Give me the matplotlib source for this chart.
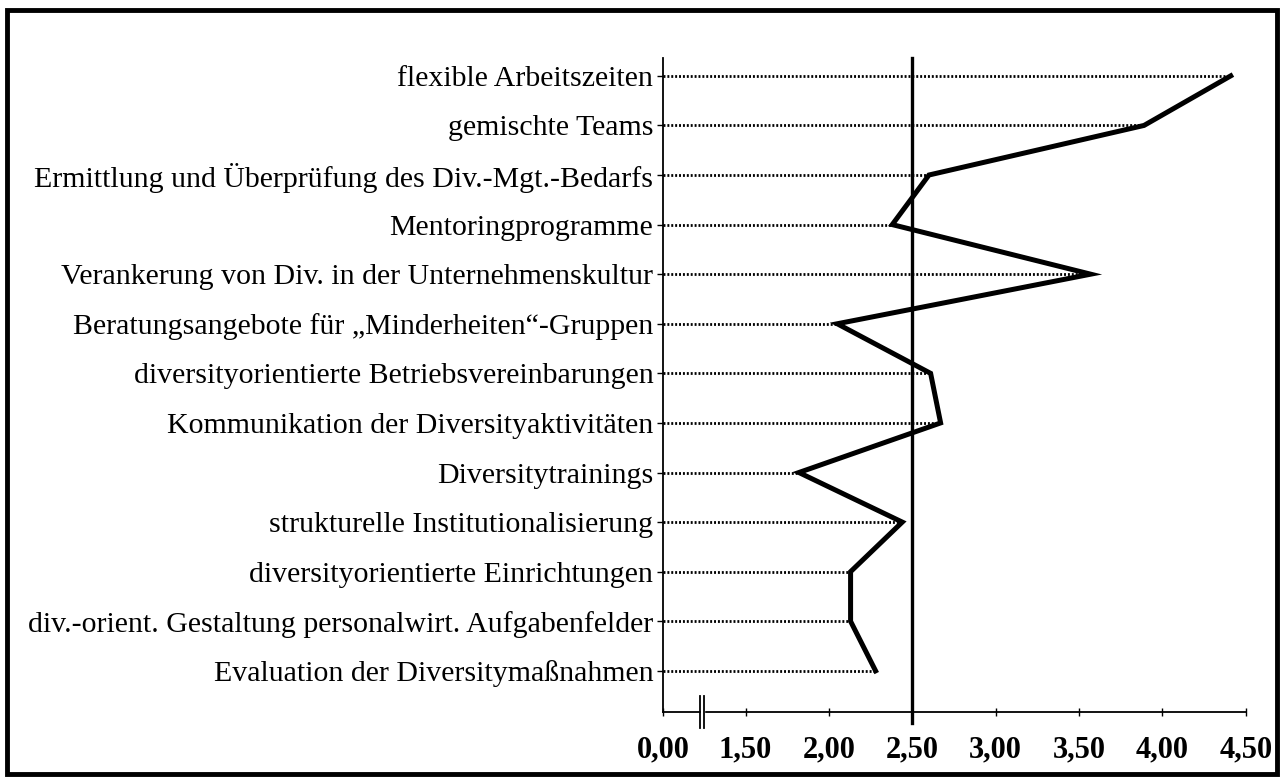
import matplotlib
matplotlib.use("Agg")
import matplotlib.pyplot as plt
from matplotlib.patches import Rectangle
import matplotlib.transforms as mtransforms

categories = [
    "Evaluation der Diversitymaßnahmen",
    "div.-orient. Gestaltung personalwirt. Aufgabenfelder",
    "diversityorientierte Einrichtungen",
    "strukturelle Institutionalisierung",
    "Diversitytrainings",
    "Kommunikation der Diversityaktivitäten",
    "diversityorientierte Betriebsvereinbarungen",
    "Beratungsangebote für „Minderheiten“-Gruppen",
    "Verankerung von Div. in der Unternehmenskultur",
    "Mentoringprogramme",
    "Ermittlung und Überprüfung des Div.-Mgt.-Bedarfs",
    "gemischte Teams",
    "flexible Arbeitszeiten",
]
values = [2.28, 2.13, 2.13, 2.44, 1.82, 2.67, 2.61, 2.05, 3.57, 2.38, 2.60, 3.89, 4.41]
reference_value = 2.50
tick_values = [1.5, 2.0, 2.5, 3.0, 3.5, 4.0, 4.5]
tick_labels = ["0,00", "1,50", "2,00", "2,50", "3,00", "3,50", "4,00", "4,50"]

X_START = 1.005  # position of "0,00" on the broken axis

plt.rcParams['font.family'] = ['Liberation Serif', 'DejaVu Serif']

fig = plt.figure(figsize=(12.83, 7.80), dpi=100)
ax = fig.add_axes([663/1283, (780-712)/780, 582.75/1283, 654/780])

ys = list(range(len(categories)))
ax.set_xlim(X_START, 4.5)
ax.set_ylim(-0.83, 12.36)

# dotted guide lines from axis to value
ax.hlines(ys, X_START, values, colors='black', linestyles=(0, (0.7, 0.7)), linewidth=2.0, zorder=1)
# main profile line
ax.plot(values, ys, color='black', linewidth=3.6, solid_joinstyle='miter', zorder=3)
# reference line at 2.50
trans = mtransforms.blended_transform_factory(ax.transData, ax.transAxes)
ax.plot([reference_value, reference_value], [-0.017, 1.0], transform=trans, color='black',
        linewidth=2.4, clip_on=False, zorder=4)

# spines
for s in ['top', 'right']:
    ax.spines[s].set_visible(False)
ax.spines['left'].set_linewidth(1.3)
ax.spines['bottom'].set_linewidth(1.3)

ax.set_yticks(ys)
ax.set_yticklabels(categories, fontsize=21.5)
ax.tick_params(axis='y', length=4, width=1.0, pad=3)

ax.set_xticks([X_START] + tick_values)
ax.set_xticklabels(tick_labels, fontsize=22, fontweight='bold')
ax.tick_params(axis='x', direction='inout', length=6, width=1.0, pad=14)

# axis break marks
for bx in (1.228, 1.252):
    ax.plot([bx, bx], [-0.025, 0.025], transform=trans, color='black', linewidth=1.3,
            clip_on=False, zorder=5)
ax.fill_between([1.232, 1.248], [-0.01, -0.01], [0.01, 0.01], transform=trans,
                color='white', clip_on=False, zorder=4.5)

# outer frame
fig.patches.append(Rectangle((7/1283, 6/780), 1270/1283, 764/780, transform=fig.transFigure,
                             fill=False, edgecolor='black', linewidth=3.5))

fig.savefig("out.png", dpi=100)
